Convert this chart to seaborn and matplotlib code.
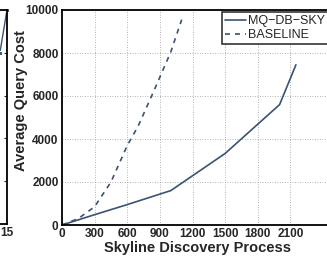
import matplotlib
matplotlib.use("Agg")
import matplotlib.pyplot as plt
import seaborn as sns
import pandas as pd

# values
mq_x = [0, 300, 600, 1000, 1500, 2000, 2150]
mq_y = [0, 480, 950, 1600, 3330, 5600, 7450]
base_x = [0, 150, 300, 450, 600, 700, 850, 1000, 1100]
base_y = [0, 300, 850, 2000, 3700, 4600, 6300, 8050, 9550]
x_ticks = [0, 300, 600, 900, 1200, 1500, 1800, 2100]
y_ticks = [0, 2000, 4000, 6000, 8000, 10000]
# neighbour panel (only its right edge is visible)
left_x = [14, 15]
left_y = [8000, 10000]

color = "#3b5272"

sns.set_style("white")
plt.rcParams['font.family'] = ['Liberation Sans', 'DejaVu Sans']

df = pd.concat([
    pd.DataFrame({"x": mq_x, "y": mq_y, "method": "MQ\u2212DB\u2212SKY"}),
    pd.DataFrame({"x": base_x, "y": base_y, "method": "BASELINE"}),
])

fig = plt.figure(figsize=(3.27, 2.59), dpi=100)
ax = fig.add_axes([62/327, 34/259, 272/327, 215/259])

sns.lineplot(data=df, x="x", y="y", style="method", dashes=[(None, None), (3, 3)],
             color=color, linewidth=1.2, ax=ax, legend=True)

ax.set_xlim(0, 2500)
ax.set_ylim(0, 10000)
ax.set_xticks(x_ticks)
ax.set_yticks(y_ticks)
ax.tick_params(direction="in", length=3, width=0.8, labelsize=8.5, pad=2.5)
ax.tick_params(axis="x", pad=2.5)
for lab in ax.get_xticklabels() + ax.get_yticklabels():
    lab.set_fontweight("bold")
ax.grid(True, linestyle=(0, (1, 2)), color="#999999", linewidth=0.6)
for s in ax.spines.values():
    s.set_linewidth(1.3)
    s.set_color("black")
ax.set_xlabel("Skyline Discovery Process", fontsize=10.5, fontweight="bold", labelpad=0.5)
ax.set_ylabel("Average Query Cost", fontsize=10.5, fontweight="bold")
ax.yaxis.set_label_coords(-0.125, 0.58)

h, l = ax.get_legend_handles_labels()
ax.legend(h, l, loc="upper left", bbox_to_anchor=(222/327, 247/259),
          bbox_transform=fig.transFigure, fontsize=9, frameon=True, fancybox=False,
          edgecolor="black", handlelength=1.7, handletextpad=0.1, borderpad=0.25,
          labelspacing=0.15, borderaxespad=0)
ax.get_legend().get_frame().set_linewidth(1.2)

# partial left panel
ax2 = fig.add_axes([-100/327, 35/259, 107/327, 214/259])
sns.lineplot(x=left_x, y=left_y, color=color, marker="s", markersize=3,
             linewidth=1.0, ax=ax2, clip_on=False)
ax2.set_xlim(0, 15)
ax2.set_ylim(0, 10000)
ax2.set_xticks([15])
ax2.set_yticks([2000, 4000, 6000, 8000])
ax2.set_yticklabels([])
ax2.tick_params(direction="in", length=2, labelsize=8.5, pad=2.5, right=True, left=False)
for lab in ax2.get_xticklabels():
    lab.set_fontweight("bold")
for s in ax2.spines.values():
    s.set_linewidth(1.3)
    s.set_color("black")

fig.savefig("out.png", dpi=100)
